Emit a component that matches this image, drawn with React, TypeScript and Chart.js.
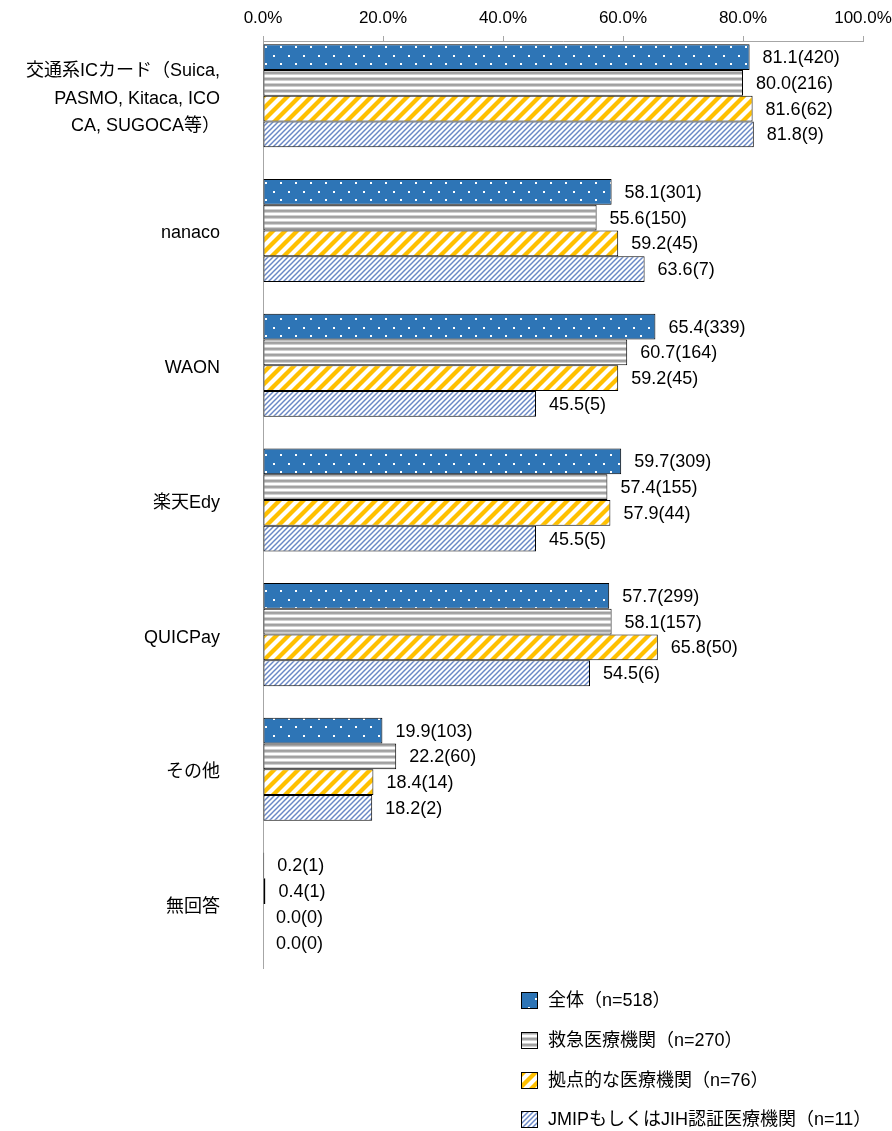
import React, { useEffect, useRef } from 'react';
import { Chart, registerables } from 'chart.js';

Chart.register(...registerables);

const categories: (string | string[])[] = [
  ['交通系ICカード（Suica,', 'PASMO, Kitaca, ICO', 'CA, SUGOCA等）'],
  'nanaco',
  'WAON',
  '楽天Edy',
  'QUICPay',
  'その他',
  '無回答',
];
const seriesNames = [
  '全体（n=518）',
  '救急医療機関（n=270）',
  '拠点的な医療機関（n=76）',
  'JMIPもしくはJIH認証医療機関（n=11）',
];
const allPct = [81.1, 58.1, 65.4, 59.7, 57.7, 19.9, 0.2];
const allN = [420, 301, 339, 309, 299, 103, 1];
const emergencyPct = [80.0, 55.6, 60.7, 57.4, 58.1, 22.2, 0.4];
const emergencyN = [216, 150, 164, 155, 157, 60, 1];
const basePct = [81.6, 59.2, 59.2, 57.9, 65.8, 18.4, 0.0];
const baseN = [62, 45, 45, 44, 50, 14, 0];
const jmipPct = [81.8, 63.6, 45.5, 45.5, 54.5, 18.2, 0.0];
const jmipN = [9, 7, 5, 5, 6, 2, 0];
const xTickStep = 20;
const xMin = 0;
const xMax = 100;

const FONT = '"Liberation Sans", Arial, "Noto Sans CJK JP", sans-serif';
const NARROW = '"Liberation Sans Narrow", "Arial Narrow", "Liberation Sans", sans-serif';

function tile(w: number, h: number, draw: (c: CanvasRenderingContext2D) => void): CanvasPattern {
  const cv = document.createElement('canvas');
  cv.width = w;
  cv.height = h;
  const c = cv.getContext('2d')!;
  draw(c);
  const ctx = document.createElement('canvas').getContext('2d')!;
  return ctx.createPattern(cv, 'repeat')!;
}

function makePatterns() {
  const dots = tile(15, 17, (c) => {
    c.fillStyle = '#2E75B6';
    c.fillRect(0, 0, 15, 17);
    c.fillStyle = '#FFFFFF';
    c.fillRect(3, 4, 2, 2);
    c.fillRect(10, 12, 2, 2);
  });
  const hstripes = tile(4, 6, (c) => {
    const rows = ['#A0A0A0', '#A6A6A6', '#D0D0D0', '#FFFFFF', '#FFFFFF', '#D0D0D0'];
    rows.forEach((col, i) => {
      c.fillStyle = col;
      c.fillRect(0, i, 4, 1);
    });
  });
  const yellow = tile(12, 12, (c) => {
    c.fillStyle = '#FFFFFF';
    c.fillRect(0, 0, 12, 12);
    c.strokeStyle = '#FFC000';
    c.lineWidth = 4.3;
    for (const o of [-12, 0, 12]) {
      c.beginPath();
      c.moveTo(o - 2, 14);
      c.lineTo(o + 14, -2);
      c.stroke();
    }
  });
  const thin = tile(5, 5, (c) => {
    c.fillStyle = '#FFFFFF';
    c.fillRect(0, 0, 5, 5);
    c.strokeStyle = '#6A88C6';
    c.lineWidth = 1.5;
    for (const o of [-5, 0, 5]) {
      c.beginPath();
      c.moveTo(o - 1, 6);
      c.lineTo(o + 6, -1);
      c.stroke();
    }
  });
  return [dots, hstripes, yellow, thin];
}

export default function App() {
  const ref = useRef<HTMLCanvasElement | null>(null);

  useEffect(() => {
    const canvas = ref.current;
    if (!canvas) return;
    const patterns = makePatterns();
    const pcts = [allPct, emergencyPct, basePct, jmipPct];
    const counts = [allN, emergencyN, baseN, jmipN];

    const datasets = pcts.map((arr, d) => ({
      label: seriesNames[d],
      data: arr.map((v, i) => ({ x: v, y: i })),
      backgroundColor: patterns[d],
      borderColor: '#000000',
      borderWidth: (ctx: any) => (ctx.raw && ctx.raw.x === 0 ? 0 : 1),
      borderSkipped: false,
      categoryPercentage: 0.765,
      barPercentage: 1.0,
    }));

    const labelPlugin = {
      id: 'valueLabels',
      afterDatasetsDraw(chart: any) {
        const c = chart.ctx;
        c.save();
        c.font = `18px ${FONT}`;
        c.fillStyle = '#000000';
        c.textAlign = 'left';
        c.textBaseline = 'middle';
        chart.data.datasets.forEach((_: any, d: number) => {
          const meta = chart.getDatasetMeta(d);
          meta.data.forEach((el: any, i: number) => {
            const txt = `${pcts[d][i].toFixed(1)}(${counts[d][i]})`;
            c.fillText(txt, el.x + 13, el.y + 1);
          });
        });
        c.restore();
      },
    };

    const legendPlugin = {
      id: 'customLegend',
      afterDraw(chart: any) {
        const c = chart.ctx;
        const rows = [1000, 1040, 1080, 1119];
        c.save();
        c.font = `18px ${FONT}`;
        c.textBaseline = 'middle';
        c.textAlign = 'left';
        seriesNames.forEach((name, d) => {
          const y = rows[d];
          c.fillStyle = patterns[d];
          c.fillRect(521, y - 8, 16, 16);
          c.strokeStyle = '#000000';
          c.lineWidth = 1;
          c.strokeRect(521.5, y - 7.5, 16, 16);
          c.fillStyle = '#000000';
          c.fillText(name, 548, y + 1);
        });
        c.restore();
      },
    };

    const chart = new Chart(canvas, {
      type: 'bar',
      data: { datasets: datasets as any },
      plugins: [labelPlugin, legendPlugin],
      options: {
        indexAxis: 'y',
        responsive: false,
        animation: false,
        devicePixelRatio: 1,
        layout: { padding: { left: 0, right: 29, top: 0, bottom: 163 } },
        plugins: { legend: { display: false }, tooltip: { enabled: false } },
        scales: {
          x: {
            type: 'linear',
            position: 'top',
            min: xMin,
            max: xMax,
            afterFit: (s: any) => {
              s.height = 41;
              s.paddingLeft = 0;
              s.paddingRight = 0;
            },
            ticks: {
              stepSize: xTickStep,
              padding: 9,
              color: '#000000',
              font: { family: NARROW, size: 17, lineHeight: 1.0 },
              callback: (v: any) => Number(v).toFixed(1) + '%',
            },
            grid: {
              display: true,
              drawOnChartArea: false,
              drawTicks: true,
              tickLength: 5,
              color: '#A6A6A6',
            },
            border: { display: true, color: '#A6A6A6', width: 1 },
          },
          y: {
            type: 'linear',
            reverse: true,
            bounds: 'data',
            offset: false,
            min: -0.4068,
            max: 6.475,
            afterFit: (s: any) => {
              s.width = 263;
              s.paddingTop = 0;
              s.paddingBottom = 0;
            },
            afterBuildTicks: (s: any) => {
              s.ticks = categories.map((_, i) => ({ value: i }));
            },
            ticks: {
              padding: 43,
              labelOffset: 3,
              color: '#000000',
              font: { family: FONT, size: 18, lineHeight: 1.53 },
              callback: (v: any) => categories[v as number] as any,
            },
            grid: { display: false, drawTicks: false, offset: false },
            border: { display: true, color: '#A6A6A6', width: 1 },
          },
        },
      } as any,
    });

    return () => {
      chart.destroy();
    };
  }, []);

  return (
    <div style={{ position: 'absolute', left: 0, top: 0, width: 892, height: 1131, background: '#ffffff' }}>
      <canvas ref={ref} width={892} height={1131} style={{ width: 892, height: 1131, display: 'block' }} />
    </div>
  );
}
